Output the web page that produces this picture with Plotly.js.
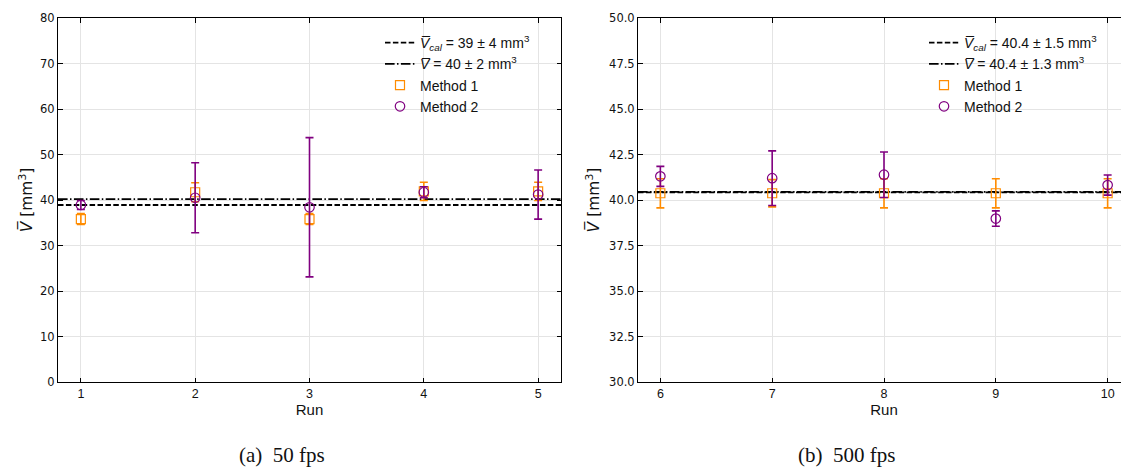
<!DOCTYPE html>
<html>
<head>
<meta charset="utf-8">
<script src="https://cdn.plot.ly/plotly-3.0.1.min.js"></script>
<style>
html,body{margin:0;padding:0;overflow:hidden;background:#fff;}
#chart{width:1130px;height:468px;}
</style>
</head>
<body>
<div id="chart"></div>
<script>
// ---- Data ----
const runsA = [1, 2, 3, 4, 5];
const method1A = [35.8, 41.7, 35.8, 41.9, 41.9];
const method1AErr = [1.2, 2.1, 1.2, 2.0, 2.0];
const method2A = [38.9, 40.5, 38.4, 41.7, 41.2];
const method2AErr = [1.0, 7.7, 15.3, 1.2, 5.4];
const vCalA = 38.9;
const vMeanA = 40.2;

const runsB = [6, 7, 8, 9, 10];
const method1B = [40.37, 40.37, 40.37, 40.37, 40.37];
const method1BErr = [0.8, 0.75, 0.8, 0.8, 0.8];
const method2B = [41.3, 41.2, 41.39, 38.98, 40.82];
const method2BErr = [0.55, 1.5, 1.25, 0.42, 0.55];
const vCalB = 40.42;
const vMeanB = 40.45;

const xRangeA = [0.8, 5.2];
const xRangeB = [5.8, 10.2];

const legendLabelsA = ["<i>V̅<sub>cal</sub></i> = 39 ± 4 mm<sup>3</sup>", "<i>V̅</i> = 40 ± 2 mm<sup>3</sup>", "Method 1", "Method 2"];
const legendLabelsB = ["<i>V̅<sub>cal</sub></i> = 40.4 ± 1.5 mm<sup>3</sup>", "<i>V̅</i> = 40.4 ± 1.3 mm<sup>3</sup>", "Method 1", "Method 2"];
const captions = ["(a)  50 fps", "(b)  500 fps"];

const ORANGE = "#ff8c00";
const PURPLE = "#800080";
const DASH = "5.5px,2.4px";
const DASHDOT = "9.6px,2.4px,1.5px,2.4px";

function panel(runs, m1, m1e, m2, m2e, vcal, vmean, xr, labels, xa, ya, leg) {
  return [
    {x: xr, y: [vcal, vcal], xaxis: xa, yaxis: ya, legend: leg, mode: "lines", name: labels[0],
     line: {color: "black", width: 1.8, dash: DASH}, hoverinfo: "skip"},
    {x: xr, y: [vmean, vmean], xaxis: xa, yaxis: ya, legend: leg, mode: "lines", name: labels[1],
     line: {color: "black", width: 1.8, dash: DASHDOT}, hoverinfo: "skip"},
    {x: runs, y: m1, xaxis: xa, yaxis: ya, legend: leg, mode: "markers", name: labels[2],
     marker: {symbol: "square-open", size: 9, color: ORANGE, line: {width: 1.2}},
     error_y: {type: "data", array: m1e, visible: true, color: ORANGE, thickness: 1.6, width: 4}},
    {x: runs, y: m2, xaxis: xa, yaxis: ya, legend: leg, mode: "markers", name: labels[3],
     marker: {symbol: "circle-open", size: 9.5, color: PURPLE, line: {width: 1.2}},
     error_y: {type: "data", array: m2e, visible: true, color: PURPLE, thickness: 1.6, width: 4}}
  ];
}

const traces = [].concat(
  panel(runsA, method1A, method1AErr, method2A, method2AErr, vCalA, vMeanA, xRangeA, legendLabelsA, "x", "y", "legend"),
  panel(runsB, method1B, method1BErr, method2B, method2BErr, vCalB, vMeanB, xRangeB, legendLabelsB, "x2", "y2", "legend2")
);

const W = 1130;
const tickFontX = {family: "Liberation Sans, Arial, sans-serif", size: 12.5, color: "#111"};
const tickFontY = {family: "DejaVu Sans, sans-serif", size: 11.5, color: "#111"};
const titleFontX = {family: "Liberation Sans, Arial, sans-serif", size: 15, color: "#111"};
const titleFontY = {family: "DejaVu Sans, sans-serif", size: 15.5, color: "#111"};

function xAxis(domain, range, anchor, tickvals) {
  return {domain: domain, range: range, anchor: anchor, tickvals: tickvals,
    ticks: "inside", ticklen: 4.5, tickwidth: 1, tickcolor: "black",
    showline: true, linecolor: "black", linewidth: 1, mirror: "allticks",
    showgrid: true, gridcolor: "#e4e4e4", gridwidth: 1, zeroline: false,
    tickfont: tickFontX, automargin: false,
    title: {text: "Run", font: titleFontX, standoff: 4}};
}
function yAxis(range, anchor, dtick, fmt, standoff) {
  return {range: range, anchor: anchor, dtick: dtick, tick0: range[0], tickformat: fmt,
    ticks: "inside", ticklen: 4.5, tickwidth: 1, tickcolor: "black",
    showline: true, linecolor: "black", linewidth: 1, mirror: "allticks",
    showgrid: true, gridcolor: "#e4e4e4", gridwidth: 1, zeroline: false,
    tickfont: tickFontY, automargin: false, domain: [0, 1],
    title: {text: "<i>V̅</i> [mm<sup>3</sup>]", font: titleFontY, standoff: standoff}};
}

const legendFont = {family: "Liberation Sans, Arial, sans-serif", size: 14, color: "#111"};

const layout = {
  width: W, height: 468,
  margin: {l: 0, r: 0, t: 18, b: 86},
  paper_bgcolor: "white", plot_bgcolor: "white",
  showlegend: true,
  xaxis: xAxis([58 / W, 561 / W], xRangeA, "y", runsA),
  yaxis: yAxis([0, 80], "x", 10, "d", 3),
  xaxis2: xAxis([638 / W, 1], xRangeB, "y2", runsB),
  yaxis2: yAxis([30, 50], "x2", 2.5, ".1f", 5),
  legend: {x: 380 / W, y: 0.975, xanchor: "left", yanchor: "top", bgcolor: "rgba(255,255,255,0)",
    borderwidth: 0, font: legendFont, tracegroupgap: 0},
  legend2: {x: 924 / W, y: 0.975, xanchor: "left", yanchor: "top", bgcolor: "rgba(255,255,255,0)",
    borderwidth: 0, font: legendFont, tracegroupgap: 0},
  annotations: [
    {text: captions[0], xref: "paper", yref: "paper", x: 282 / W, y: -(455 - 382) / 364,
     xanchor: "center", yanchor: "middle", showarrow: false,
     font: {family: "Liberation Serif, DejaVu Serif, serif", size: 21, color: "#111"}},
    {text: captions[1], xref: "paper", yref: "paper", x: 846 / W, y: -(455 - 382) / 364,
     xanchor: "center", yanchor: "middle", showarrow: false,
     font: {family: "Liberation Serif, DejaVu Serif, serif", size: 21, color: "#111"}}
  ]
};

Plotly.newPlot("chart", traces, layout, {displayModeBar: false, staticPlot: true});
</script>
</body>
</html>
